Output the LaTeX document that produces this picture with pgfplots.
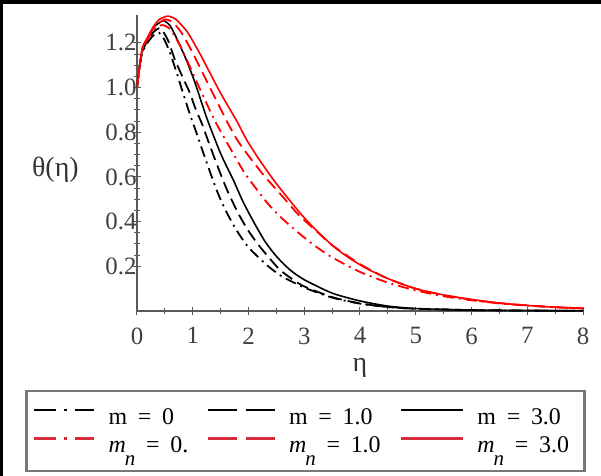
\documentclass[border=0pt]{standalone}
\usepackage{fontspec}
\setmainfont{Liberation Serif}
\usepackage{pgfplots}
\pgfplotsset{compat=1.18}
\definecolor{axgray}{RGB}{90,90,90}
\definecolor{lgray}{RGB}{120,120,120}
\definecolor{lred}{RGB}{215,45,60}
\newcommand{\mn}{\textit{m}\kern-1bp\raisebox{-0.55em}{\fontsize{21}{21}\selectfont\textit{n}}}
\newcommand{\eq}{\hspace{0.45em}=\hspace{0.45em}}
\newcommand{\lstrut}{\rule[-8bp]{0pt}{24bp}}
\begin{document}%
\begin{tikzpicture}[font=\fontsize{24}{28}\selectfont]
\begin{axis}[
  name=ax,
  scale only axis, width=446bp, height=296bp,
  xmin=0, xmax=8, ymin=0, ymax=1.325,
  axis x line=bottom, axis y line=left,
  axis line style={-, draw=axgray, line width=1.6bp},
  xtick={0,1,2,3,4,5,6,7,8},
  ytick={0.2,0.4,0.6,0.8,1.0,1.2},
  minor x tick num=1, minor y tick num=3,
  tick align=center, major tick length=8bp, minor tick length=6bp,
  every tick/.style={axgray, line width=1bp},
  /pgf/number format/assume math mode=true,
  tick label style={font=\fontsize{25}{29}\selectfont, text=black!75},
  xticklabel style={yshift=-9bp},
  yticklabel style={xshift=7bp, /pgf/number format/.cd, fixed, fixed zerofill, precision=1},
  xlabel={η}, ylabel={θ(η)},
  label style={font=\fontsize{28}{32}\selectfont, text=black!80},
  xlabel style={at={(axis description cs:0.5,-0.206)}, anchor=base},
  ylabel style={at={(axis description cs:-0.183,0.478)}, anchor=center, rotate=-90},
  legend columns=3,
  legend cell align=left,
  legend style={at={(axis description cs:-0.2511,-0.2668)}, anchor=north west,
    draw=lgray, line width=2.5bp, inner xsep=7bp, inner ysep=17bp,
    font=\fontsize{24}{28}\selectfont, row sep=11bp,
    nodes={inner sep=0pt},
    /tikz/every odd column/.append style={column sep=13bp}},
]
% black curves
\addplot[forget plot, black, line width=1.8bp, smooth, tension=0.4, dash pattern=on 11bp off 5bp on 2bp off 5bp] coordinates {
(0,1.0)(0.05,1.10)(0.1,1.16)(0.2,1.205)(0.3,1.235)(0.4,1.245)(0.5,1.21)(0.6,1.15)(0.72,1.06)(0.82,0.98)(0.95,0.88)(1.07,0.795)(1.2,0.70)(1.43,0.54)(1.6,0.445)(1.79,0.36)(2.0,0.285)(2.33,0.205)(2.6,0.155)(3.0,0.105)(3.5,0.06)(4.0,0.033)(4.5,0.018)(5.0,0.01)(6.0,0.004)(7.0,0.002)(8.0,0.001)};
\addplot[forget plot, black, line width=1.8bp, smooth, tension=0.4, dash pattern=on 12bp off 6bp] coordinates {
(0,1.0)(0.05,1.10)(0.1,1.165)(0.2,1.215)(0.3,1.25)(0.42,1.265)(0.55,1.215)(0.68,1.125)(0.84,1.035)(0.95,0.975)(1.05,0.905)(1.17,0.835)(1.3,0.745)(1.45,0.645)(1.61,0.545)(1.8,0.445)(1.97,0.37)(2.15,0.305)(2.33,0.25)(2.56,0.185)(2.8,0.14)(3.0,0.11)(3.5,0.062)(4.0,0.034)(4.5,0.018)(5.0,0.01)(6.0,0.004)(7.0,0.002)(8.0,0.001)};
\addplot[forget plot, black, line width=1.6bp, smooth, tension=0.4] coordinates {
(0,1.0)(0.05,1.10)(0.1,1.175)(0.2,1.225)(0.3,1.27)(0.4,1.29)(0.48,1.30)(0.6,1.275)(0.75,1.20)(0.9,1.115)(1.05,1.015)(1.25,0.865)(1.5,0.705)(1.73,0.585)(1.9,0.49)(2.09,0.40)(2.3,0.31)(2.5,0.245)(2.74,0.185)(3.0,0.14)(3.5,0.08)(4.0,0.045)(4.5,0.022)(5.0,0.011)(6.0,0.004)(7.0,0.002)(8.0,0.001)};
% red curves
\addplot[forget plot, red, line width=1.8bp, smooth, tension=0.4, dash pattern=on 11bp off 5bp on 2bp off 5bp] coordinates {
(0,1.0)(0.05,1.10)(0.1,1.175)(0.2,1.22)(0.3,1.26)(0.45,1.28)(0.6,1.26)(0.8,1.175)(1.0,1.065)(1.2,0.955)(1.4,0.85)(1.6,0.76)(1.9,0.63)(2.1,0.56)(2.35,0.48)(2.6,0.415)(2.92,0.345)(3.2,0.29)(3.5,0.24)(4.0,0.175)(4.5,0.127)(5.0,0.092)(5.5,0.066)(6.0,0.048)(6.5,0.034)(7.0,0.024)(7.5,0.017)(8.0,0.012)};
\addplot[forget plot, red, line width=1.8bp, smooth, tension=0.4, dash pattern=on 12bp off 6bp] coordinates {
(0,1.0)(0.05,1.10)(0.1,1.18)(0.2,1.225)(0.3,1.27)(0.5,1.305)(0.65,1.29)(0.8,1.245)(1.0,1.155)(1.2,1.055)(1.4,0.955)(1.61,0.85)(1.8,0.765)(2.03,0.685)(2.3,0.60)(2.62,0.51)(2.9,0.43)(3.23,0.355)(3.5,0.295)(4.0,0.21)(4.5,0.145)(5.0,0.10)(5.5,0.071)(6.0,0.05)(6.5,0.035)(7.0,0.025)(7.5,0.017)(8.0,0.012)};
\addplot[forget plot, red, line width=1.6bp, smooth, tension=0.4] coordinates {
(0,1.0)(0.05,1.10)(0.1,1.18)(0.2,1.23)(0.3,1.275)(0.4,1.305)(0.55,1.32)(0.7,1.305)(0.9,1.25)(1.1,1.165)(1.3,1.07)(1.5,0.975)(1.79,0.85)(1.97,0.765)(2.2,0.675)(2.5,0.57)(2.92,0.44)(3.2,0.365)(3.52,0.29)(3.82,0.235)(4.12,0.19)(4.5,0.145)(5.0,0.10)(5.5,0.072)(6.0,0.052)(6.5,0.036)(7.0,0.025)(7.5,0.017)(8.0,0.012)};
% legend
\addlegendimage{legend image code/.code={\draw[black, line width=2.4bp, dash pattern=on 22bp off 8bp on 3bp off 8bp] (0bp,7bp) -- (60bp,7bp);}}
\addlegendentry{\makebox[98bp][l]{\lstrut m\eq 0}}
\addlegendimage{legend image code/.code={\draw[black, line width=2.4bp, dash pattern=on 29bp off 9bp] (0bp,7bp) -- (67bp,7bp);}}
\addlegendentry{\makebox[111bp][l]{\lstrut m\eq 1.0}}
\addlegendimage{legend image code/.code={\draw[black, line width=2.4bp] (0bp,7bp) -- (62bp,7bp);}}
\addlegendentry{\makebox[100bp][l]{\lstrut m\eq 3.0}}
\addlegendimage{legend image code/.code={\draw[lred, line width=2.4bp, dash pattern=on 22bp off 8bp on 3bp off 8bp] (0bp,7bp) -- (60bp,7bp);}}
\addlegendentry{\makebox[98bp][l]{\lstrut\mn\eq 0.}}
\addlegendimage{legend image code/.code={\draw[lred, line width=2.4bp, dash pattern=on 29bp off 9bp] (0bp,7bp) -- (67bp,7bp);}}
\addlegendentry{\makebox[111bp][l]{\lstrut\mn\eq 1.0}}
\addlegendimage{legend image code/.code={\draw[lred, line width=2.4bp] (0bp,7bp) -- (62bp,7bp);}}
\addlegendentry{\makebox[100bp][l]{\lstrut\mn\eq 3.0}}
\end{axis}
\pgfresetboundingbox
\path[use as bounding box] ([shift={(-137bp,-165bp)}]ax.south west) rectangle ([shift={(464bp,311bp)}]ax.south west);
\draw[line width=4bp] ([shift={(-137bp,309bp)}]ax.south west) -- ([shift={(464bp,309bp)}]ax.south west);
\draw[line width=2.5bp] ([shift={(-135.7bp,311bp)}]ax.south west) -- ([shift={(-135.7bp,-165bp)}]ax.south west);
\fill[white] ([shift={(459bp,-165bp)}]ax.south west) rectangle ([shift={(464bp,307bp)}]ax.south west);
\end{tikzpicture}%
\end{document}
